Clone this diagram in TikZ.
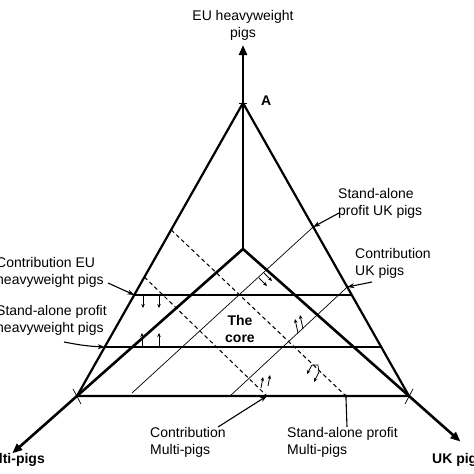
\documentclass[tikz,border=0pt]{standalone}
\usepackage{fontspec}
\setmainfont{Liberation Sans}
\usetikzlibrary{arrows.meta,calc}

\begin{document}
\begin{tikzpicture}[x=1pt, y=-1pt,
  lbl/.style={font=\fontsize{14}{17}\selectfont, align=left, anchor=base west, inner sep=0pt},
  boldlbl/.style={lbl, font=\fontsize{14}{17}\selectfont\bfseries},
  axis/.style={line width=2.6pt, -{Triangle[length=10pt,width=8pt]}},
  rim/.style={line width=2.2pt},
  level/.style={line width=1.3pt},
  thinline/.style={line width=0.7pt},
  dashline/.style={line width=1pt, dash pattern=on 4pt off 3pt},
  ptr/.style={line width=1.1pt, -{Stealth[length=7pt,width=5pt]}},
  nudge/.style={line width=0.8pt, -{Stealth[length=4pt,width=3.5pt]}}]
\path[fill=white] (0,0) rectangle (474,474);
\useasboundingbox (0,0) rectangle (474,474);
% corners of the triangle and the origin
\coordinate (O) at (243,249);
\coordinate (A) at (243,103);
\coordinate (L) at (77,396);
\coordinate (R) at (409,396);
\draw[axis] (O) -- (243,45);
\draw[axis] (O) -- ($(O)!1.39!(L)$);
\draw[axis] (O) -- ($(O)!1.31!(R)$);
\draw[rim] (L) -- (A) -- (R) -- cycle;
\draw[thinline] (239,103) -- (247,103);
\draw[thinline] (73,389) -- (81,404);
\draw[thinline] (413,389) -- (405,404);
% levels of the three players
\draw[level] ($(A)!0.655!(L)$) coordinate (h1l) -- ($(A)!0.655!(R)$);
\draw[level] ($(A)!0.833!(L)$) coordinate (h2l) -- ($(A)!0.833!(R)$);
\draw[thinline] ($(A)!0.423!(R)$) coordinate (u1) -- (132,393);
\draw[thinline] ($(A)!0.628!(R)$) coordinate (u2) -- ($(L)!0.461!(R)$);
\draw[dashline] ($(A)!0.433!(L)$) -- ($(L)!0.81!(R)$) coordinate (m1);
\draw[dashline] ($(A)!0.594!(L)$) -- ($(L)!0.572!(R)$) coordinate (m2);
\fill (m1) circle (1.6);
\fill (u1) circle (1.4);
\fill (u2) circle (1.4);
% small shifts
\draw[nudge] (143,296) -- (143,308);
\draw[nudge] (159,296) -- (159,308);
\draw[nudge] (142,347) -- (142,333);
\draw[nudge] (159,347) -- (159,333);
\draw[nudge] (259,278) -- (267,286);
\draw[nudge] (264,273) -- (272,281);
\draw[nudge] (298,333) -- (295,319);
\draw[nudge] (303,329) -- (300,315);
\draw[nudge] (261,388) -- (263,377);
\draw[nudge] (268,386) -- (270,375);
\draw[nudge] (312,365) -- (307,374);
\draw[nudge] (319,372) -- (314,382);
\draw[thinline] (312,365) -- (318,365) -- (319,372);
% labels
\node[lbl, align=center, anchor=base] (eulbl) at (243,37) {EU heavyweight\\pigs};
\node[boldlbl] (alab) at (261,105) {A};
\node[boldlbl, align=center, anchor=base] (core) at (240,342) {The\\core};
\node[boldlbl, anchor=base east] (mplbl) at (45,463) {Multi-pigs};
\node[boldlbl] (uklbl) at (432,463) {UK pigs};
\node[lbl] (ceu) at (-4,284) {Contribution EU\\heavyweight pigs};
\node[lbl] (seu) at (-4,332) {Stand-alone profit\\heavyweight pigs};
\node[lbl] (suk) at (338,215) {Stand-alone\\profit UK pigs};
\node[lbl] (cuk) at (355,275) {Contribution\\UK pigs};
\node[lbl] (cmp) at (150,454) {Contribution\\Multi-pigs};
\node[lbl] (smp) at (287,454) {Stand-alone profit\\Multi-pigs};
% pointers
\coordinate (ceup) at (108,283);
\coordinate (seup) at (64,342);
\coordinate (sukp) at (339,213);
\coordinate (cukp) at (372,282);
\coordinate (cmpp) at (218,427);
\coordinate (smpp) at (347,427);
\draw[ptr] (ceup) -- (h1l);
\draw[ptr] (seup) to[bend right=4] (h2l);
\draw[ptr] (sukp) -- (u1);
\draw[ptr] (cukp) -- (u2);
\draw[ptr] (cmpp) -- (m2);
\draw[line width=1.1pt] (smpp) -- (m1);
\end{tikzpicture}
\end{document}
